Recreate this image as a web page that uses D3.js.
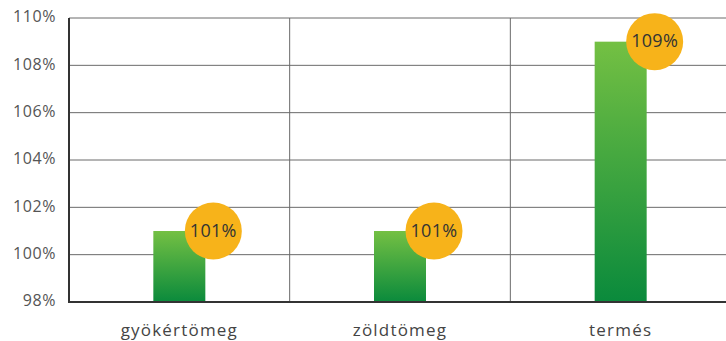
<!DOCTYPE html>
<html>
<head>
<meta charset="utf-8">
<script src="https://cdn.jsdelivr.net/npm/d3@7"></script>
<style>
  body { margin: 0; background: #fff; }
  text { font-family: "Open Sans", sans-serif; }
</style>
</head>
<body>
<script>
// categories and values (percent)
var categories = ['gyökértömeg', 'zöldtömeg', 'termés'];
var values = [101, 101, 109];
var valueLabels = ['101%', '101%', '109%'];
var yTicks = [98, 100, 102, 104, 106, 108, 110];

var width = 726, height = 341;
var mLeft = 69, mRight = 731, mTop = 18, mBottom = 302;

var svg = d3.select("body").append("svg")
  .attr("width", width)
  .attr("height", height);

var defs = svg.append("defs");
var grad = defs.append("linearGradient")
  .attr("id", "barGrad")
  .attr("x1", "0").attr("y1", "0")
  .attr("x2", "0").attr("y2", "1");
grad.append("stop").attr("offset", "0%").attr("stop-color", "#74c043");
grad.append("stop").attr("offset", "100%").attr("stop-color", "#0a8a3c");

var x = d3.scaleBand()
  .domain(categories)
  .range([mLeft, mRight]);

var y = d3.scaleLinear()
  .domain([98, 110])
  .range([mBottom, mTop]);

// horizontal grid
svg.selectAll("line.grid")
  .data(yTicks)
  .enter().append("line")
    .attr("class", "grid")
    .attr("x1", mLeft)
    .attr("x2", width)
    .attr("y1", d => y(d))
    .attr("y2", d => y(d))
    .attr("stroke", "#6a6a6a")
    .attr("stroke-width", 1);

// vertical dividers between categories
svg.selectAll("line.div")
  .data(categories.slice(1))
  .enter().append("line")
    .attr("class", "div")
    .attr("x1", d => x(d))
    .attr("x2", d => x(d))
    .attr("y1", mTop)
    .attr("y2", mBottom)
    .attr("stroke", "#6a6a6a")
    .attr("stroke-width", 1);

// y tick labels
svg.selectAll("text.ytick")
  .data(yTicks)
  .enter().append("text")
    .attr("class", "ytick")
    .attr("x", 56)
    .attr("y", d => y(d))
    .attr("text-anchor", "end")
    .attr("dominant-baseline", "middle")
    .attr("font-size", 16)
    .attr("letter-spacing", 0.6)
    .attr("fill", "#555")
    .text(d => d + "%");

// bars
var barW = 52;
svg.selectAll("rect.bar")
  .data(values)
  .enter().append("rect")
    .attr("class", "bar")
    .attr("x", (d, i) => x(categories[i]) + x.bandwidth() / 2 - barW / 2)
    .attr("y", d => y(d))
    .attr("width", barW)
    .attr("height", d => y(98) - y(d))
    .attr("fill", "url(#barGrad)");

// axes lines
svg.append("line")
  .attr("x1", mLeft).attr("x2", mLeft)
  .attr("y1", mTop).attr("y2", mBottom + 1)
  .attr("stroke", "#333").attr("stroke-width", 2);
svg.append("line")
  .attr("x1", mLeft - 1).attr("x2", width)
  .attr("y1", mBottom).attr("y2", mBottom)
  .attr("stroke", "#333").attr("stroke-width", 2);

// value bubbles
var bubbleX = (i) => x(categories[i]) + x.bandwidth() / 2 + barW / 2 + 8;
svg.selectAll("circle.bubble")
  .data(values)
  .enter().append("circle")
    .attr("class", "bubble")
    .attr("cx", (d, i) => bubbleX(i))
    .attr("cy", d => y(d))
    .attr("r", 28.5)
    .attr("fill", "#f7b31a");

svg.selectAll("text.val")
  .data(values)
  .enter().append("text")
    .attr("class", "val")
    .attr("x", (d, i) => bubbleX(i))
    .attr("y", d => y(d) + 1)
    .attr("text-anchor", "middle")
    .attr("dominant-baseline", "middle")
    .attr("font-size", 18)
    .attr("letter-spacing", 0.3)
    .attr("fill", "#333")
    .text((d, i) => valueLabels[i]);

// category labels
svg.selectAll("text.cat")
  .data(categories)
  .enter().append("text")
    .attr("class", "cat")
    .attr("x", d => x(d) + x.bandwidth() / 2)
    .attr("y", 336)
    .attr("text-anchor", "middle")
    .attr("font-size", 17)
    .attr("letter-spacing", 1.2)
    .attr("fill", "#444")
    .text(d => d);
</script>
</body>
</html>
